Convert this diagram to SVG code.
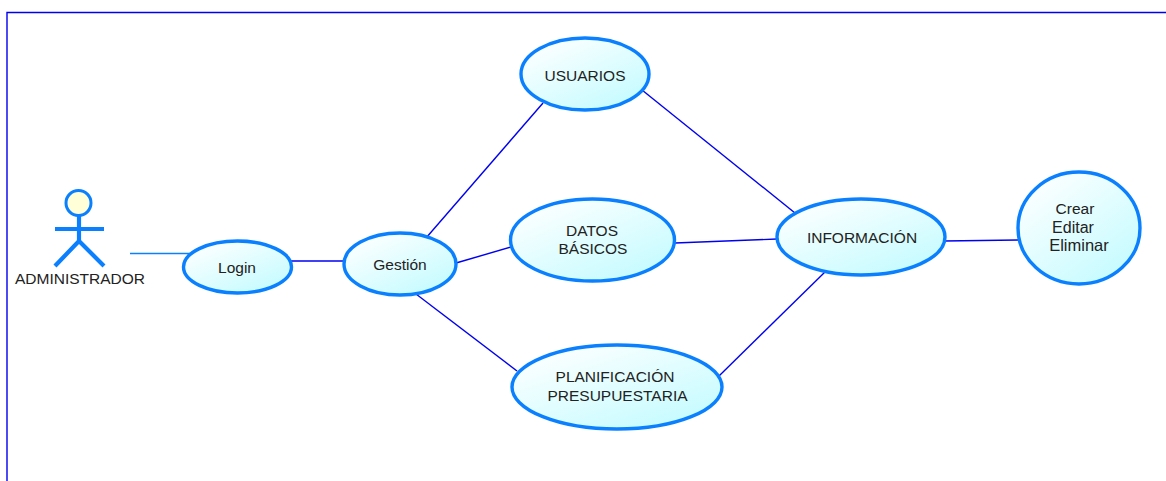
<svg xmlns="http://www.w3.org/2000/svg" width="1166" height="481" viewBox="0 0 1166 481">
<defs>
<linearGradient id="g" x1="0.1" y1="0.05" x2="0.85" y2="0.95"><stop offset="0" stop-color="#ffffff"/><stop offset="1" stop-color="#c4fbff"/></linearGradient>
</defs>
<style>
.u{fill:url(#g);stroke:#0a80ff;stroke-width:3.4}
.c{stroke:#0000f0;stroke-width:1.4;fill:none}
text{font-family:"Liberation Sans",Arial,sans-serif;font-size:15.5px;fill:#222;text-anchor:middle}
.a{stroke:#0a80ff;stroke-width:4.2;fill:none}
</style>
<rect width="1166" height="481" fill="#fff"/>
<path d="M7 481V12.500H1166" fill="none" stroke="#0000f0" stroke-width="1.400"/>
<g id="connectors">
<line x1="130" y1="250" x2="190" y2="250" stroke="#0a80ff" stroke-width="1.400" transform="translate(0 3.500)"/>
<line class="c" x1="291" y1="261" x2="345" y2="261"/>
<line class="c" x1="426" y1="238" x2="543" y2="103"/>
<line class="c" x1="456" y1="263" x2="511" y2="247"/>
<line class="c" x1="416" y1="294" x2="517" y2="371"/>
<line class="c" x1="642" y1="90" x2="795" y2="213"/>
<line class="c" x1="675" y1="243" x2="777" y2="239"/>
<line class="c" x1="719" y1="376" x2="826" y2="271"/>
<line class="c" x1="944" y1="241" x2="1018" y2="240"/>
</g>
<g id="actor">
<circle cx="78.500" cy="203" r="12.500" fill="#ffffd8" stroke="#0a80ff" stroke-width="3"/>
<path class="a" d="M79 216V241M55 229H104M55 266L79 241L104 266"/>
<text x="80" y="284">ADMINISTRADOR</text>
</g>
<g id="login"><ellipse class="u" cx="237.500" cy="267" rx="54" ry="26"/><text x="237" y="273">Login</text></g>
<g id="gestion"><ellipse class="u" cx="400" cy="264" rx="56" ry="31"/><text x="400" y="270">Gestión</text></g>
<g id="usuarios"><ellipse class="u" cx="585" cy="74" rx="64" ry="36"/><text x="585" y="81">USUARIOS</text></g>
<g id="datos"><ellipse class="u" cx="592.500" cy="240" rx="82" ry="41"/><text x="592" y="236">DATOS</text><text x="593" y="254">BÁSICOS</text></g>
<g id="planificacion"><ellipse class="u" cx="617" cy="387" rx="105" ry="42"/><text x="615" y="382">PLANIFICACIÓN</text><text x="617.500" y="400.500">PRESUPUESTARIA</text></g>
<g id="informacion"><ellipse class="u" cx="861" cy="237" rx="84" ry="38"/><text x="862" y="243">INFORMACIÓN</text></g>
<g id="crear"><ellipse class="u" cx="1079" cy="228" rx="61" ry="56"/><text x="1075" y="214">Crear</text><text x="1073" y="233" style="font-size:16px">Editar</text><text x="1079" y="251" style="font-size:16.500px">Eliminar</text></g>
</svg>
